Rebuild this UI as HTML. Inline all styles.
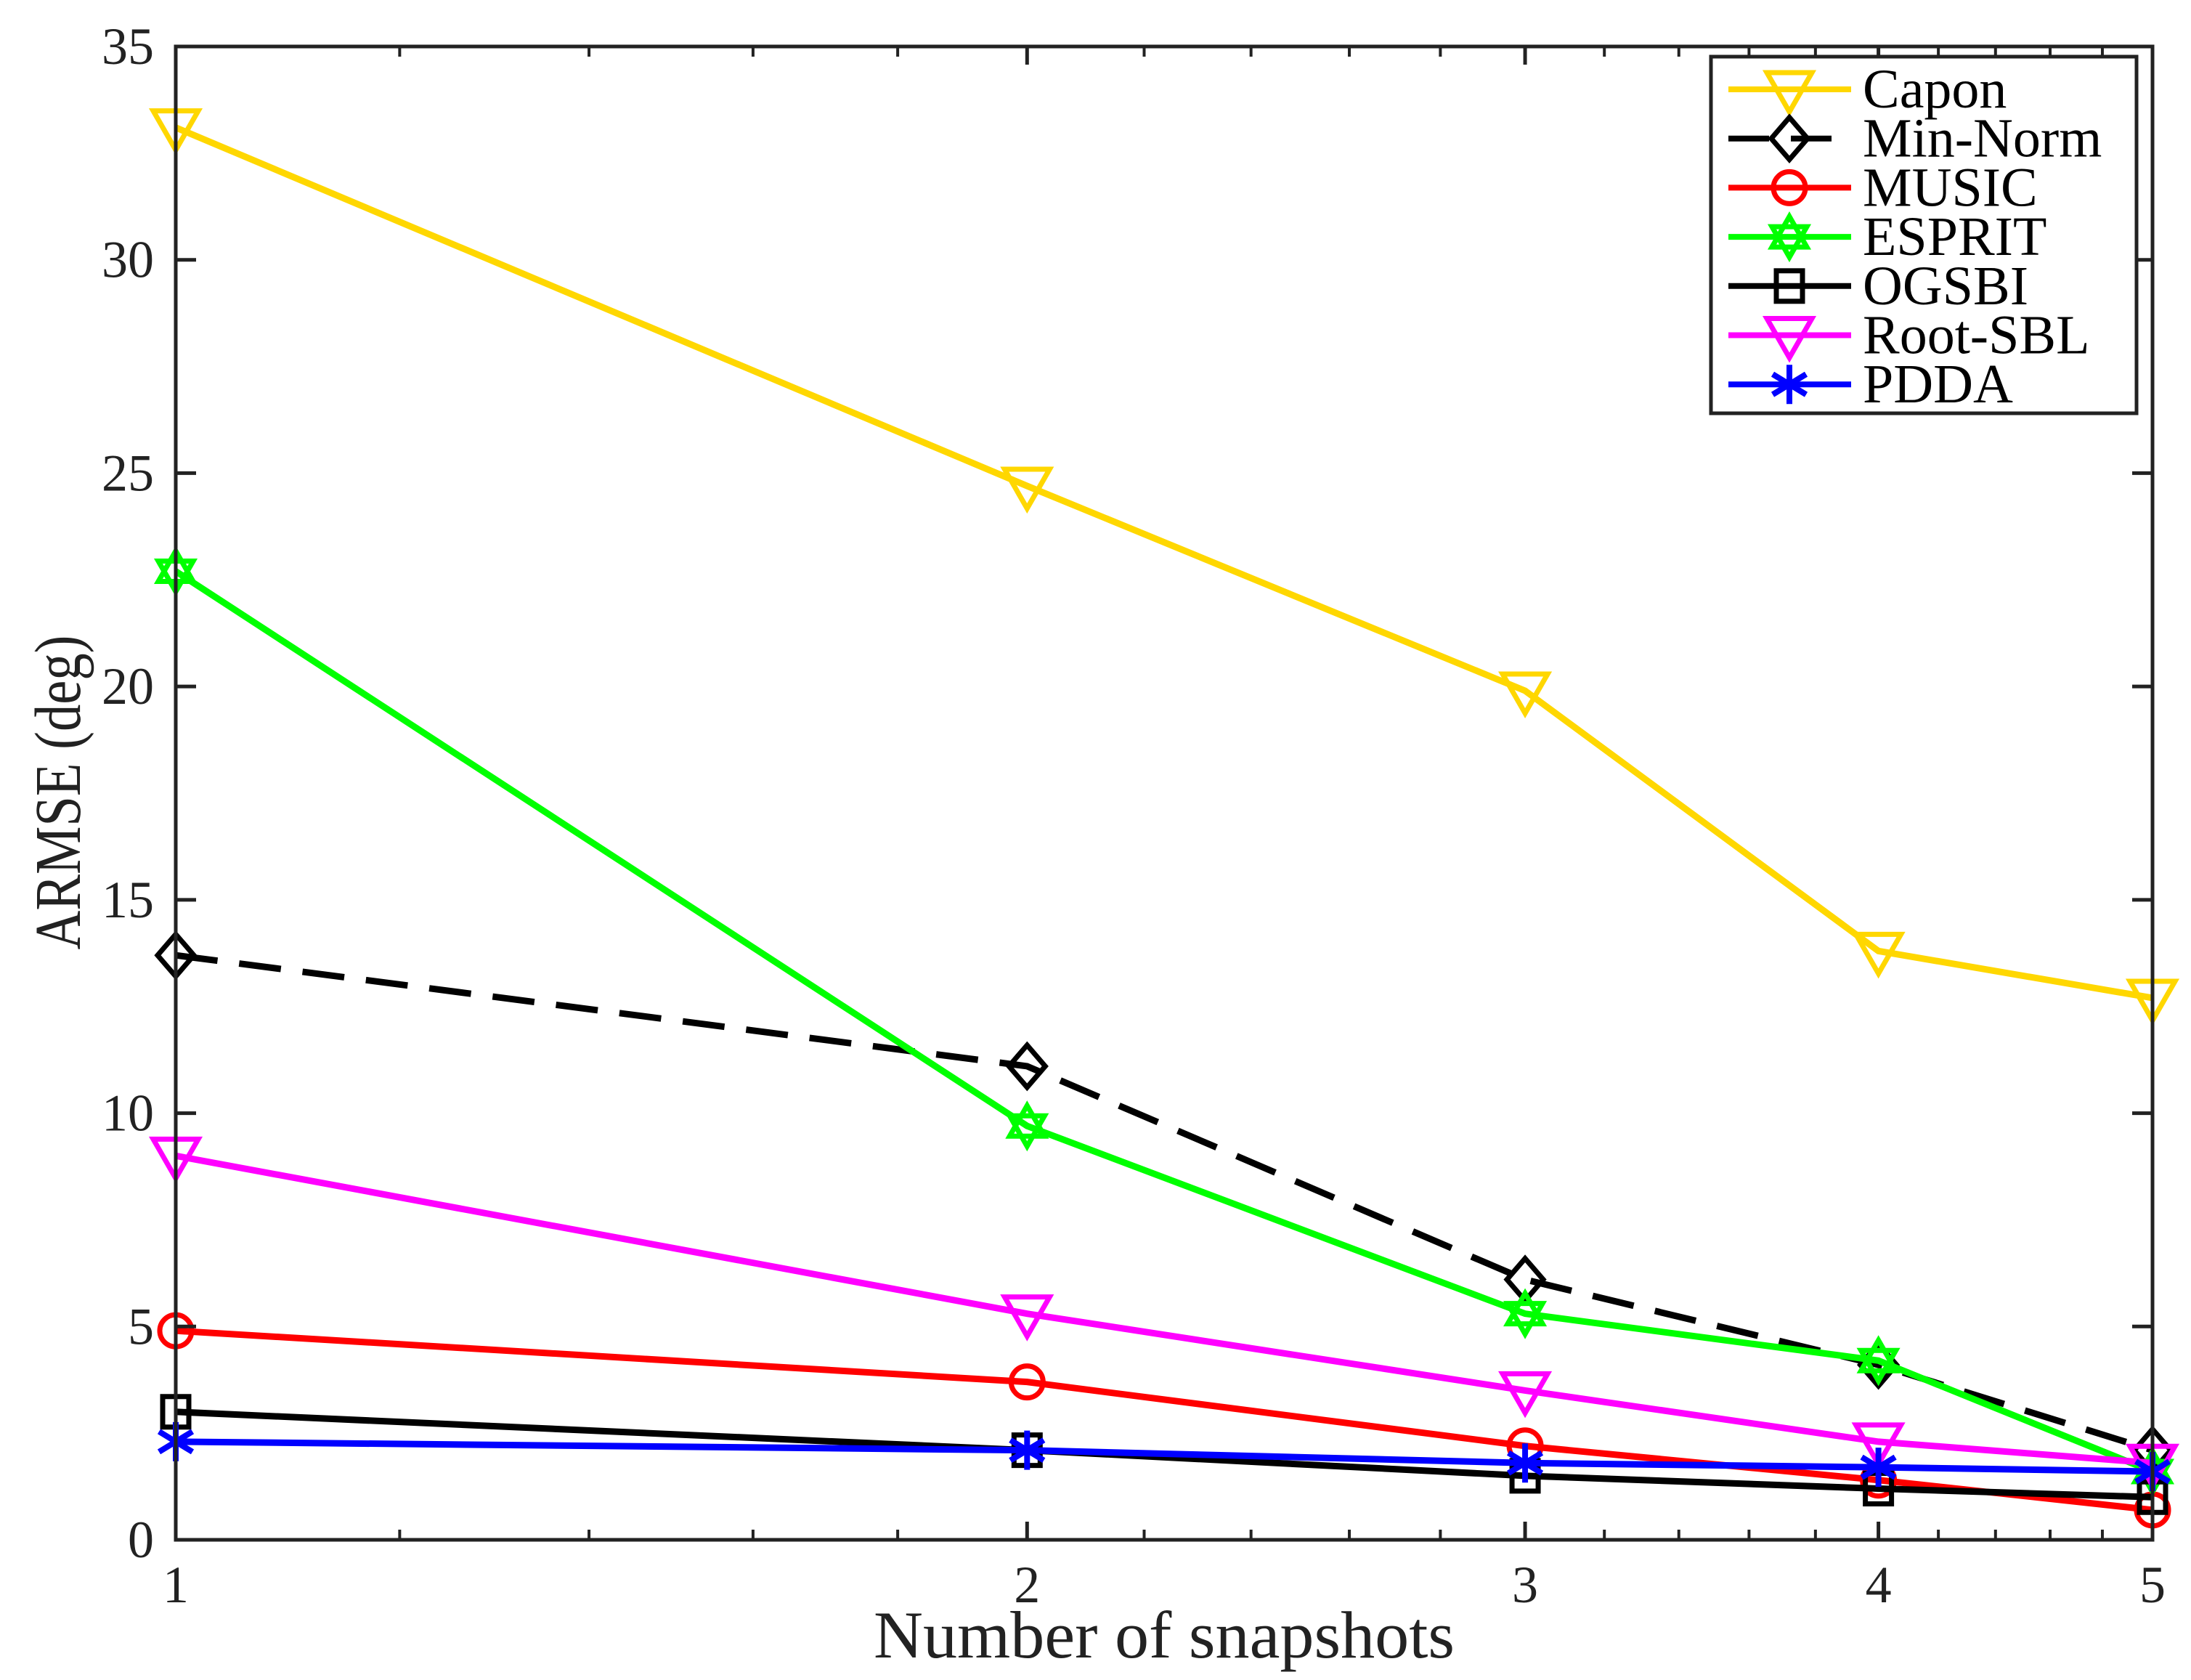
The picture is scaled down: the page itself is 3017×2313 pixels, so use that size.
<!DOCTYPE html>
<html><head><meta charset="utf-8"><style>
html,body{margin:0;padding:0;background:#fff;}
svg{display:block;font-family:"Liberation Serif",serif;}
</style></head><body>
<svg id="chart" width="3017" height="2313" viewBox="0 0 3017 2313" xmlns="http://www.w3.org/2000/svg">
<rect width="3017" height="2313" fill="#fff"/>
<g id="plot"></g>
<g id="axes"></g>
<text x="1603" y="2282" font-size="92" text-anchor="middle" fill="#222" textLength="800" lengthAdjust="spacingAndGlyphs">Number of snapshots</text>
<text transform="translate(110,1091) rotate(-90)" font-size="90" text-anchor="middle" fill="#222" textLength="433" lengthAdjust="spacingAndGlyphs">ARMSE (deg)</text>
<g id="legend"></g>
</svg>
<script>
const xValues = [1, 2, 3, 4, 5];
const seriesNames = ["Capon","Min-Norm","MUSIC","ESPRIT","OGSBI","Root-SBL","PDDA"];
const caponValues = [33.1, 24.7, 19.9, 13.8, 12.7];
const minNormValues = [13.7, 11.1, 6.1, 4.1, 2.1];
const musicValues = [4.9, 3.7, 2.2, 1.4, 0.7];
const espritValues = [22.7, 9.7, 5.3, 4.2, 1.6];
const ogsbiValues = [3.0, 2.1, 1.5, 1.2, 1.0];
const rootSblValues = [9.0, 5.3, 3.5, 2.3, 1.8];
const pddaValues = [2.3, 2.1, 1.8, 1.7, 1.6];
const yTicks = [0, 5, 10, 15, 20, 25, 30, 35];
const xTicks = [1, 2, 3, 4, 5];
const xMinorTicks = [1.2,1.4,1.6,1.8,2.2,2.4,2.6,2.8,3.2,3.4,3.6,3.8,4.2,4.4,4.6,4.8];

const NS = "http://www.w3.org/2000/svg";
const L = 242, R = 2964, T = 64, B = 2120;
const xScale = v => L + Math.log(v) / Math.log(5) * (R - L);
const yScale = v => B - v / 35 * (B - T);
function mk(tag, attrs, parent) {
  const e = document.createElementNS(NS, tag);
  for (const k in attrs) e.setAttribute(k, attrs[k]);
  parent.appendChild(e);
  return e;
}
const plot = document.getElementById("plot");
const axes = document.getElementById("axes");
const legend = document.getElementById("legend");

const styles = [
  {vals: caponValues, color: "#FFD700", marker: "tri", dash: null},
  {vals: minNormValues, color: "#000", marker: "diamond", dash: "58 30"},
  {vals: musicValues, color: "#FF0000", marker: "circle", dash: null},
  {vals: espritValues, color: "#00FF00", marker: "hexagram", dash: null},
  {vals: ogsbiValues, color: "#000", marker: "square", dash: null},
  {vals: rootSblValues, color: "#FF00FF", marker: "tri", dash: null},
  {vals: pddaValues, color: "#0000FF", marker: "star", dash: null}
];

function drawMarker(g, type, cx, cy, color) {
  const sw = 7;
  if (type === "tri") {
    mk("polygon", {points: `${cx-31},${cy-23} ${cx+31},${cy-23} ${cx},${cy+31}`, fill: "none", stroke: color, "stroke-width": sw}, g);
  } else if (type === "diamond") {
    mk("polygon", {points: `${cx},${cy-29} ${cx+25},${cy} ${cx},${cy+29} ${cx-25},${cy}`, fill: "none", stroke: color, "stroke-width": sw}, g);
  } else if (type === "circle") {
    mk("circle", {cx: cx, cy: cy, r: 22, fill: "none", stroke: color, "stroke-width": sw}, g);
  } else if (type === "hexagram") {
    mk("polygon", {points: `${cx},${cy-28} ${cx+24},${cy+14} ${cx-24},${cy+14}`, fill: "none", stroke: color, "stroke-width": sw}, g);
    mk("polygon", {points: `${cx},${cy+28} ${cx+24},${cy-14} ${cx-24},${cy-14}`, fill: "none", stroke: color, "stroke-width": sw}, g);
  } else if (type === "square") {
    mk("rect", {x: cx-18, y: cy-21, width: 36, height: 42, fill: "none", stroke: color, "stroke-width": sw}, g);
  } else if (type === "star") {
    mk("line", {x1: cx, y1: cy-27, x2: cx, y2: cy+27, stroke: color, "stroke-width": 8}, g);
    mk("line", {x1: cx-23, y1: cy-14, x2: cx+23, y2: cy+14, stroke: color, "stroke-width": 8}, g);
    mk("line", {x1: cx-23, y1: cy+14, x2: cx+23, y2: cy-14, stroke: color, "stroke-width": 8}, g);
  }
}

styles.forEach((s, i) => {
  const g = mk("g", {}, plot);
  
  
  const pts = s.vals.map((v, j) => `${xScale(xValues[j])},${yScale(v)}`).join(" ");
  const a = {points: pts, fill: "none", stroke: s.color, "stroke-width": 9, "stroke-linejoin": "miter"};
  if (s.dash) a["stroke-dasharray"] = s.dash;
  const pl = mk("polyline", a, g);
  
  
  s.vals.forEach((v, j) => {
    const mg = mk("g", {}, g);
    
    
    drawMarker(mg, s.marker, xScale(xValues[j]), yScale(v), s.color);
  });
});

const box = mk("rect", {x: L, y: T, width: R-L, height: B-T, fill: "none", stroke: "#222", "stroke-width": 5}, axes);


yTicks.forEach(v => {
  const y = yScale(v);
  mk("line", {x1: L, y1: y, x2: L+28, y2: y, stroke: "#222", "stroke-width": 5}, axes);
  mk("line", {x1: R, y1: y, x2: R-28, y2: y, stroke: "#222", "stroke-width": 5}, axes);
  const t = mk("text", {x: L-30, y: y+24, "font-size": 72, "text-anchor": "end", fill: "#222"}, axes);
  t.textContent = v;
  
  
});
xTicks.forEach(v => {
  const x = xScale(v);
  mk("line", {x1: x, y1: B, x2: x, y2: B-25, stroke: "#222", "stroke-width": 5}, axes);
  mk("line", {x1: x, y1: T, x2: x, y2: T+25, stroke: "#222", "stroke-width": 5}, axes);
  const t = mk("text", {x: x, y: B+86, "font-size": 72, "text-anchor": "middle", fill: "#222"}, axes);
  t.textContent = v;
  
  
});
xMinorTicks.forEach(v => {
  const x = xScale(v);
  mk("line", {x1: x, y1: B, x2: x, y2: B-14, stroke: "#222", "stroke-width": 4}, axes);
  mk("line", {x1: x, y1: T, x2: x, y2: T+14, stroke: "#222", "stroke-width": 4}, axes);
});

const lb = mk("rect", {x: 2356, y: 78, width: 586, height: 491, fill: "#fff", stroke: "#222", "stroke-width": 5}, legend);


styles.forEach((s, i) => {
  const y = 123 + i * 67.7;
  const g = mk("g", {}, legend);
  
  
  const a = {x1: 2380, y1: y, x2: 2549, y2: y, stroke: s.color, "stroke-width": 8};
  if (s.dash) { a.x2 = 2525; a["stroke-dasharray"] = "56 30"; }
  mk("line", a, g);
  drawMarker(g, s.marker, 2464, y, s.color);
  const t = mk("text", {x: 2565, y: y+25, "font-size": 76, fill: "#000"}, g);
  t.textContent = seriesNames[i];
});
</script>
</body></html>
